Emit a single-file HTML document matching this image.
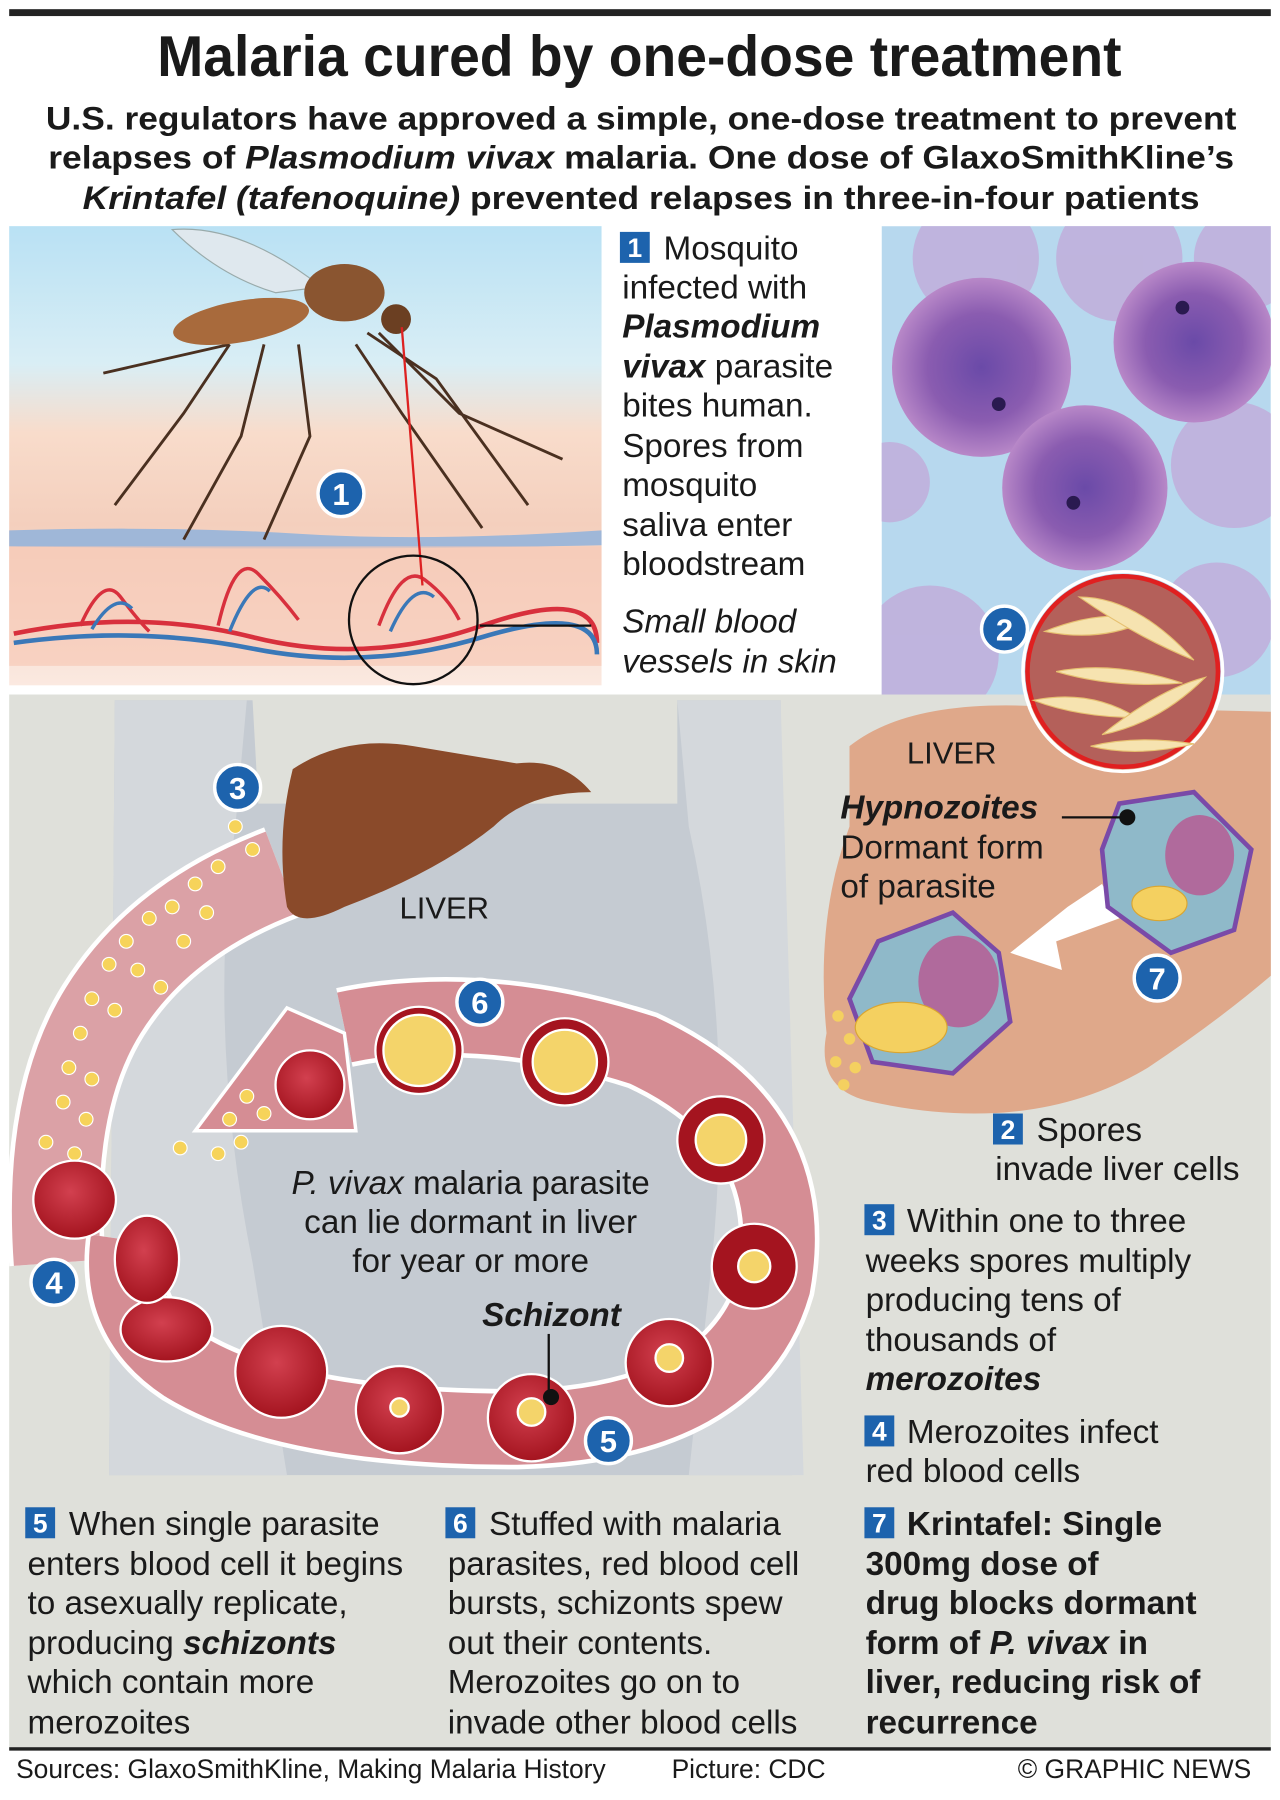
<!DOCTYPE html>
<html><head><meta charset="utf-8"><style>
html,body{margin:0;padding:0;background:#fff}
svg{display:block}
text{font-family:"Liberation Sans",Arial,sans-serif;fill:#1a1a1a}
.b{font-weight:bold}.i{font-style:italic}
.t{font-size:29px}
.bt{font-weight:bold;fill:#fff}
</style></head><body>
<svg width="1280" height="1800" viewBox="0 0 1115 1568" preserveAspectRatio="none" xmlns="http://www.w3.org/2000/svg">
<defs>
<linearGradient id="sky" x1="0" y1="0" x2="0" y2="1">
<stop offset="0" stop-color="#b9e1f4"/><stop offset="0.3" stop-color="#d9eef5"/><stop offset="0.45" stop-color="#f8dccb"/><stop offset="0.65" stop-color="#f4cfbd"/><stop offset="1" stop-color="#fbe9e0"/></linearGradient>
<radialGradient id="rbc" cx="0.45" cy="0.4" r="0.6"><stop offset="0" stop-color="#d2404f"/><stop offset="1" stop-color="#a4141f"/></radialGradient>
<radialGradient id="par" cx="0.5" cy="0.5" r="0.5"><stop offset="0" stop-color="#6a4aa8"/><stop offset="0.6" stop-color="#8a5cb0"/><stop offset="1" stop-color="#b888c8"/></radialGradient>
<clipPath id="pc"><rect x="768" y="197" width="339" height="440"/></clipPath>
</defs>
<rect x="8" y="8" width="1099" height="6" fill="#222"/>
<text x="557" y="66" text-anchor="middle" class="b" font-size="50" textLength="840" lengthAdjust="spacingAndGlyphs">Malaria cured by one-dose treatment</text>
<text x="40" y="113" class="b" font-size="28" textLength="1037" lengthAdjust="spacingAndGlyphs">U.S. regulators have approved a simple, one-dose treatment to prevent</text>
<text x="42" y="147" class="b" font-size="28" textLength="1033" lengthAdjust="spacingAndGlyphs">relapses of <tspan class="i">Plasmodium vivax</tspan> malaria. One dose of GlaxoSmithKline’s</text>
<text x="72" y="182" class="b" font-size="28" textLength="973" lengthAdjust="spacingAndGlyphs"><tspan class="i">Krintafel (tafenoquine)</tspan> prevented relapses in three-in-four patients</text>

<!-- top-left illustration -->
<rect x="8" y="197" width="516" height="400" fill="url(#sky)"/>
<path d="M8 462 Q150 458 260 465 T524 462 L524 475 Q300 480 8 476Z" fill="#9fb7d8"/>
<path d="M8 476 L524 476 L524 580 L8 580Z" fill="#f6c9b6" opacity="0.7"/>
<g fill="none" stroke-width="4">
<path d="M12 552 Q120 530 220 555 T420 545 T520 560" stroke="#d8303d"/>
<path d="M12 560 Q120 545 220 565 T420 555 T520 570" stroke="#3a78b8"/>
<path d="M70 545 Q90 500 105 520 T130 550 M190 545 Q205 480 225 500 T260 540 M330 545 Q350 490 370 505 T400 540" stroke="#d8303d" stroke-width="3"/>
<path d="M80 548 Q100 515 115 530 M200 550 Q220 500 235 515 M340 550 Q360 505 378 520" stroke="#3a78b8" stroke-width="3"/>
</g>
<g stroke="#4a3020" stroke-width="2.5" fill="none">
<path d="M200 300 L160 360 L100 440 M230 300 L210 380 L160 470 M260 300 L270 380 L230 470 M320 290 L380 330 L460 440 M330 290 L400 360 L490 400 M310 300 L350 360 L420 460 M200 300 L90 325"/>
</g>
<path d="M150 200 Q210 195 280 250 L240 255 Q190 240 150 200Z" fill="#dfe8ee" stroke="#9aa" stroke-width="1"/>
<ellipse cx="210" cy="280" rx="60" ry="18" fill="#a86a3c" transform="rotate(-10 210 280)"/>
<ellipse cx="300" cy="255" rx="35" ry="25" fill="#8a5530"/>
<circle cx="345" cy="278" r="13" fill="#6b3f22"/>
<line x1="350" y1="285" x2="368" y2="510" stroke="#d22" stroke-width="2"/>
<circle cx="360" cy="540" r="56" fill="none" stroke="#111" stroke-width="2"/>
<line x1="418" y1="545" x2="515" y2="545" stroke="#111" stroke-width="2"/>

<rect x="540" y="202" width="26" height="27" fill="#1d63ad"/><text x="553" y="224" text-anchor="middle" class="bt" style="font-size:23px">1</text>
<text class="t"><tspan x="578" y="226">Mosquito</tspan><tspan x="542" y="260">infected with</tspan><tspan x="542" y="294" class="b i">Plasmodium</tspan><tspan x="542" y="329"><tspan class="b i">vivax</tspan> parasite</tspan><tspan x="542" y="363">bites human.</tspan><tspan x="542" y="398">Spores from</tspan><tspan x="542" y="432">mosquito</tspan><tspan x="542" y="467">saliva enter</tspan><tspan x="542" y="501">bloodstream</tspan><tspan x="542" y="551" class="i">Small blood</tspan><tspan x="542" y="586" class="i">vessels in skin</tspan></text>

<!-- photo -->
<g clip-path="url(#pc)">
<rect x="768" y="197" width="339" height="440" fill="#b7d8ee"/>
<g fill="#c2a8d8" opacity="0.75">
<circle cx="850" cy="225" r="55"/><circle cx="975" cy="225" r="55"/><circle cx="1085" cy="225" r="45"/><circle cx="1075" cy="405" r="55"/><circle cx="775" cy="420" r="35"/><circle cx="810" cy="570" r="60"/><circle cx="1060" cy="540" r="50"/>
</g>
<circle cx="855" cy="320" r="78" fill="url(#par)"/><circle cx="1040" cy="298" r="70" fill="url(#par)"/><circle cx="945" cy="425" r="72" fill="url(#par)"/>
<g fill="#2a1a50"><circle cx="870" cy="352" r="6"/><circle cx="1030" cy="268" r="6"/><circle cx="935" cy="438" r="6"/></g>
</g>

<!-- lower gray region -->
<rect x="8" y="605" width="1099" height="917" fill="#dfe0da"/>
<path d="M100 610 L220 610 L225 700 L590 700 L590 610 L680 610 L690 1285 L95 1285Z" fill="#c5cbd2"/>
<path d="M100 610 L215 610 L205 720 Q180 900 220 1100 L250 1285 L95 1285Z" fill="#d4d8dc"/>
<path d="M680 610 L590 610 L600 720 Q640 900 620 1100 L600 1285 L700 1285Z" fill="#d4d8dc"/>
<path d="M740 650 Q790 610 900 615 L1107 620 L1107 850 Q1060 890 1000 930 Q900 990 760 960 Q710 950 720 900 Q710 800 740 720Z" fill="#dfa88a"/>
<circle cx="978" cy="585" r="83" fill="#b4605a" stroke="#e02020" stroke-width="4"/>
<circle cx="978" cy="585" r="87" fill="none" stroke="#fff" stroke-width="3"/>
<g fill="#f6e3b0" stroke="#e6c070" stroke-width="1">
<path d="M910 550 Q960 530 1000 540 Q960 560 910 550Z"/><path d="M940 520 Q990 520 1040 575 Q990 555 940 520Z"/><path d="M920 585 Q970 575 1030 595 Q970 600 920 585Z"/><path d="M900 610 Q950 600 990 625 Q940 625 900 610Z"/><path d="M960 640 Q1010 600 1050 590 Q1010 630 960 640Z"/><path d="M950 650 Q990 640 1040 648 Q990 660 950 650Z"/>
</g>
<path d="M880 830 L930 790 L960 770 L975 800 L920 820 L925 845Z" fill="#fff"/>
<path d="M975 700 L1040 690 L1090 740 L1075 810 L1020 830 L965 790 L960 740Z" fill="#8fb9c9" stroke="#7a4aa8" stroke-width="4"/>
<ellipse cx="1045" cy="745" rx="30" ry="35" fill="#b06a9c"/>
<ellipse cx="1010" cy="787" rx="24" ry="15" fill="#f4d060" stroke="#d9a530"/>
<path d="M765 820 L830 795 L870 830 L880 890 L830 935 L760 925 L740 870Z" fill="#8fb9c9" stroke="#7a4aa8" stroke-width="4"/>
<ellipse cx="835" cy="855" rx="35" ry="40" fill="#b06a9c"/>
<ellipse cx="785" cy="895" rx="40" ry="22" fill="#f4d060" stroke="#d9a530"/>
<g fill="#f4d060"><circle cx="730" cy="885" r="5"/><circle cx="740" cy="905" r="5"/><circle cx="728" cy="925" r="5"/><circle cx="745" cy="930" r="5"/><circle cx="735" cy="945" r="5"/></g>
<text x="790" y="665" font-size="27">LIVER</text>
<text x="732" y="713" class="b i" font-size="29">Hypnozoites</text>
<text x="732" y="748" font-size="29">Dormant form</text>
<text x="732" y="782" font-size="29">of parasite</text>
<line x1="925" y1="712" x2="980" y2="712" stroke="#111" stroke-width="2"/><circle cx="982" cy="712" r="7" fill="#111"/>

<path d="M245 760 Q140 800 90 880 Q40 960 50 1100" fill="none" stroke="#fff" stroke-width="84"/>
<path d="M245 760 Q140 800 90 880 Q40 960 50 1100" fill="none" stroke="#dba1a6" stroke-width="76"/>
<path d="M300 895 Q420 870 560 915 Q700 980 675 1120 Q640 1240 450 1245 Q250 1245 160 1190 Q100 1150 110 1080" fill="none" stroke="#fff" stroke-width="70"/>
<path d="M300 895 Q420 870 560 915 Q700 980 675 1120 Q640 1240 450 1245 Q250 1245 160 1190 Q100 1150 110 1080" fill="none" stroke="#d58d94" stroke-width="62"/>
<path d="M250 878 L300 900 L310 985 L170 985Z" fill="#d58d94" stroke="#fff" stroke-width="3"/>
<path d="M255 670 Q300 640 360 650 Q420 660 450 665 Q490 660 515 690 Q460 690 430 720 Q380 760 300 790 Q260 810 250 790 Q240 730 255 670Z" fill="#8a4a2a"/>
<text x="348" y="800" font-size="27">LIVER</text>
<g fill="#f6d35a" stroke="#fff" stroke-width="1">
<circle cx="205" cy="720" r="6"/><circle cx="220" cy="740" r="6"/><circle cx="190" cy="755" r="6"/><circle cx="170" cy="770" r="6"/><circle cx="150" cy="790" r="6"/><circle cx="130" cy="800" r="6"/><circle cx="110" cy="820" r="6"/><circle cx="160" cy="820" r="6"/><circle cx="95" cy="840" r="6"/><circle cx="120" cy="845" r="6"/><circle cx="80" cy="870" r="6"/><circle cx="100" cy="880" r="6"/><circle cx="70" cy="900" r="6"/><circle cx="60" cy="930" r="6"/><circle cx="80" cy="940" r="6"/><circle cx="55" cy="960" r="6"/><circle cx="75" cy="975" r="6"/><circle cx="40" cy="995" r="6"/><circle cx="65" cy="1005" r="6"/><circle cx="180" cy="795" r="6"/><circle cx="140" cy="860" r="6"/>
<circle cx="215" cy="955" r="6"/><circle cx="200" cy="975" r="6"/><circle cx="230" cy="970" r="6"/><circle cx="210" cy="995" r="6"/><circle cx="190" cy="1005" r="6"/><circle cx="157" cy="1000" r="6"/>
</g>
<g stroke="#fff" stroke-width="2">
<circle cx="270" cy="945" r="30" fill="url(#rbc)"/>
<circle cx="365" cy="915" r="38" fill="#a4141f"/><circle cx="365" cy="915" r="31" fill="#f4d46a"/>
<circle cx="492" cy="925" r="38" fill="#a4141f"/><circle cx="492" cy="925" r="28" fill="#f4d46a"/>
<circle cx="628" cy="993" r="38" fill="#a4141f"/><circle cx="628" cy="993" r="22" fill="#f4d46a"/>
<circle cx="657" cy="1103" r="37" fill="#a4141f"/><circle cx="657" cy="1103" r="14" fill="#f4d46a"/>
<circle cx="583" cy="1187" r="38" fill="url(#rbc)"/><circle cx="583" cy="1183" r="12" fill="#f4d46a"/>
<circle cx="463" cy="1235" r="38" fill="url(#rbc)"/><circle cx="463" cy="1230" r="12" fill="#f4d46a"/>
<circle cx="348" cy="1228" r="38" fill="url(#rbc)"/><circle cx="348" cy="1226" r="8" fill="#f4d46a"/>
<circle cx="245" cy="1195" r="40" fill="url(#rbc)"/>
<ellipse cx="145" cy="1158" rx="40" ry="28" fill="url(#rbc)"/>
<ellipse cx="128" cy="1097" rx="28" ry="38" fill="url(#rbc)"/>
<ellipse cx="65" cy="1045" rx="36" ry="34" fill="url(#rbc)"/>
</g>
<text x="410" y="1040" text-anchor="middle" class="t"><tspan class="i">P. vivax</tspan> malaria parasite</text>
<text x="410" y="1074" text-anchor="middle" class="t">can lie dormant in liver</text>
<text x="410" y="1108" text-anchor="middle" class="t">for year or more</text>
<text x="420" y="1155" class="b i t">Schizont</text>
<line x1="478" y1="1162" x2="478" y2="1214" stroke="#111" stroke-width="2"/><circle cx="480" cy="1217" r="7" fill="#111"/>

<g fill="#1d63ad" stroke="#fff" stroke-width="3">
<circle cx="297" cy="430" r="20"/><circle cx="875" cy="548" r="20"/><circle cx="207" cy="686" r="20"/><circle cx="47" cy="1117" r="20"/><circle cx="530" cy="1255" r="20"/><circle cx="418" cy="873" r="20"/><circle cx="1008" cy="852" r="20"/>
</g>
<text class="bt" style="font-size:27px" text-anchor="middle"><tspan x="297" y="440">1</tspan><tspan x="875" y="558">2</tspan><tspan x="207" y="696">3</tspan><tspan x="47" y="1127">4</tspan><tspan x="530" y="1265">5</tspan><tspan x="418" y="883">6</tspan><tspan x="1008" y="862">7</tspan></text>

<g fill="#1d63ad"><rect x="865" y="970" width="26" height="27"/><rect x="753" y="1049" width="26" height="27"/><rect x="753" y="1233" width="26" height="27"/><rect x="753" y="1313" width="26" height="27"/><rect x="22" y="1313" width="26" height="27"/><rect x="388" y="1313" width="26" height="27"/></g>
<text class="bt" style="font-size:23px" text-anchor="middle"><tspan x="878" y="992">2</tspan><tspan x="766" y="1071">3</tspan><tspan x="766" y="1255">4</tspan><tspan x="766" y="1335">7</tspan><tspan x="35" y="1335">5</tspan><tspan x="401" y="1335">6</tspan></text>
<text class="t"><tspan x="903" y="994">Spores</tspan><tspan x="867" y="1028">invade liver cells</tspan>
<tspan x="790" y="1073">Within one to three</tspan><tspan x="754" y="1108">weeks spores multiply</tspan><tspan x="754" y="1142">producing tens of</tspan><tspan x="754" y="1177">thousands of</tspan><tspan x="754" y="1211" class="b i">merozoites</tspan>
<tspan x="790" y="1257">Merozoites infect</tspan><tspan x="754" y="1291">red blood cells</tspan></text>
<text class="t b"><tspan x="790" y="1337">Krintafel: Single</tspan><tspan x="754" y="1372">300mg dose of</tspan><tspan x="754" y="1406">drug blocks dormant</tspan><tspan x="754" y="1441">form of <tspan class="i">P. vivax</tspan> in</tspan><tspan x="754" y="1475">liver, reducing risk of</tspan><tspan x="754" y="1510">recurrence</tspan></text>
<text class="t"><tspan x="60" y="1337">When single parasite</tspan><tspan x="24" y="1372">enters blood cell it begins</tspan><tspan x="24" y="1406">to asexually replicate,</tspan><tspan x="24" y="1441">producing <tspan class="b i">schizonts</tspan></tspan><tspan x="24" y="1475">which contain more</tspan><tspan x="24" y="1510">merozoites</tspan></text>
<text class="t"><tspan x="426" y="1337">Stuffed with malaria</tspan><tspan x="390" y="1372">parasites, red blood cell</tspan><tspan x="390" y="1406">bursts, schizonts spew</tspan><tspan x="390" y="1441">out their contents.</tspan><tspan x="390" y="1475">Merozoites go on to</tspan><tspan x="390" y="1510">invade other blood cells</tspan></text>

<rect x="8" y="1522" width="1099" height="3" fill="#222"/>
<text x="14" y="1549" font-size="23">Sources: GlaxoSmithKline, Making Malaria History</text>
<text x="585" y="1549" font-size="23">Picture: CDC</text>
<text x="1090" y="1549" font-size="23" text-anchor="end">© GRAPHIC NEWS</text>
</svg>
</body></html>
